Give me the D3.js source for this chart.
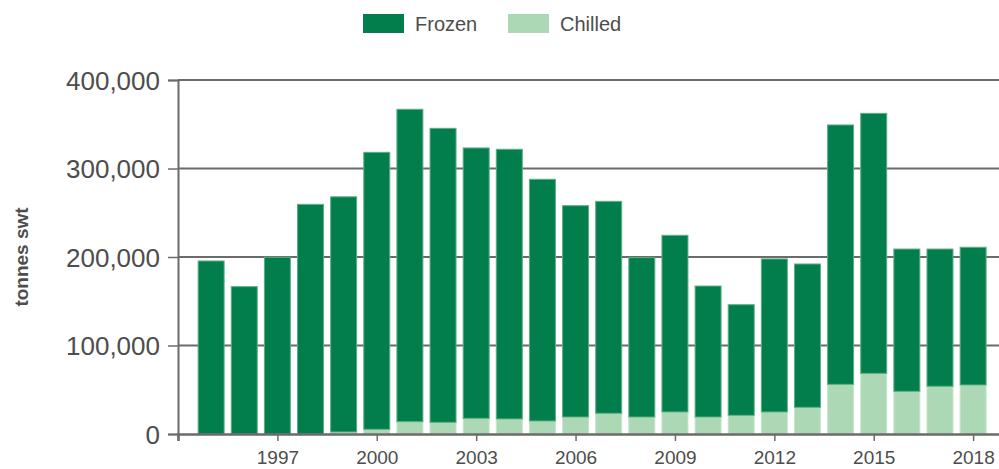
<!DOCTYPE html>
<html>
<head>
<meta charset="utf-8">
<script src="https://cdn.jsdelivr.net/npm/d3@7"></script>
<style>
  body { margin: 0; background: #fff; }
  svg { display: block; font-family: Arial, "Liberation Sans", sans-serif; }
  .tick text { fill: #4d4d4d; }
</style>
</head>
<body>
<div id="chart"></div>
<script>
var years = d3.range(1995, 2019);
var chilled = [0, 0, 0, 0, 2300, 5300, 13900, 13200, 17700, 17000, 14700, 19200,
               23400, 19200, 24900, 19200, 21100, 24900, 30100, 56100, 68500, 48200, 53900, 55400];
var totals = [195500, 166500, 199700, 259500, 268000, 318300, 366900, 345400, 323200, 321700, 287800, 258000,
              262900, 199300, 224500, 167200, 146100, 197800, 192100, 349200, 362300, 209000, 209000, 211000];
var frozen = totals.map((t, i) => t - chilled[i]);
var yTicks = [0, 100000, 200000, 300000, 400000];
var xTicks = [1994, 1997, 2000, 2003, 2006, 2009, 2012, 2015, 2018];

var W = 999, H = 469;
var left = 178, zeroY = 434, topY = 80;
var step = 33.13;

var svg = d3.select("#chart").append("svg")
    .attr("width", W)
    .attr("height", H);

var x = d3.scaleLinear()
    .domain([1994, 2019])
    .range([left, left + 25 * step]);

var y = d3.scaleLinear()
    .domain([0, 400000])
    .range([zeroY, topY]);

// gridlines
svg.append("g")
  .selectAll("line")
  .data(yTicks.slice(1))
  .enter().append("line")
    .attr("x1", left).attr("x2", W)
    .attr("y1", d => y(d)).attr("y2", d => y(d))
    .attr("stroke", "#6b6b6b")
    .attr("stroke-width", 2);

// stacked data
var rows = years.map((yr, i) => ({year: yr, Chilled: chilled[i], Frozen: frozen[i]}));
var stack = d3.stack().keys(["Chilled", "Frozen"])(rows);
var colors = {Chilled: "#acd8b6", Frozen: "#027e4d"};
var strokes = {Chilled: "#c6e6cd", Frozen: "#5fae85"};
var bw = 26;

svg.append("g")
  .selectAll("g")
  .data(stack)
  .enter().append("g")
    .attr("fill", d => colors[d.key])
    .attr("stroke", d => strokes[d.key])
    .attr("stroke-width", 1)
  .selectAll("rect")
  .data(d => d.filter(p => p[1] - p[0] > 0))
  .enter().append("rect")
    .attr("x", d => x(d.data.year) - bw / 2)
    .attr("width", bw)
    .attr("y", d => y(d[1]))
    .attr("height", d => y(d[0]) - y(d[1]));

// y axis
var yAxis = svg.append("g")
    .attr("transform", `translate(${left},0)`)
    .call(d3.axisLeft(y).tickValues(yTicks).tickFormat(d3.format(",")).tickSize(10).tickPadding(8));
yAxis.select(".domain").attr("stroke", "#6b6b6b").attr("stroke-width", 2);
yAxis.selectAll(".tick line").attr("stroke", "#6b6b6b").attr("stroke-width", 1.5);
yAxis.selectAll(".tick text").style("font-size", "26px").attr("dy", "0.36em");

// x axis
var xAxis = svg.append("g")
    .attr("transform", `translate(0,${zeroY})`)
    .call(d3.axisBottom(x).tickValues(xTicks).tickFormat(d => d == 1994 ? "" : d).tickSize(7).tickPadding(10));
xAxis.select(".domain").attr("stroke", "#6b6b6b").attr("stroke-width", 2.5);
xAxis.selectAll(".tick line").attr("stroke", "#6b6b6b").attr("stroke-width", 1.5);
xAxis.selectAll(".tick text").style("font-size", "19px");

// y label
svg.append("text")
    .attr("transform", "translate(28,257) rotate(-90)")
    .attr("text-anchor", "middle")
    .style("font-size", "19px")
    .style("font-weight", "bold")
    .attr("fill", "#4d4d4d")
    .text("tonnes swt");

// legend
var legend = [{key: "Frozen", x: 363}, {key: "Chilled", x: 508}];
var lg = svg.append("g").selectAll("g")
    .data(legend)
    .enter().append("g")
    .attr("transform", d => `translate(${d.x},14)`);
lg.append("rect")
    .attr("width", 41).attr("height", 19)
    .attr("fill", d => colors[d.key]);
lg.append("text")
    .attr("x", 52).attr("y", 17)
    .style("font-size", "20px")
    .attr("fill", "#4d4d4d")
    .text(d => d.key);
</script>
</body>
</html>
